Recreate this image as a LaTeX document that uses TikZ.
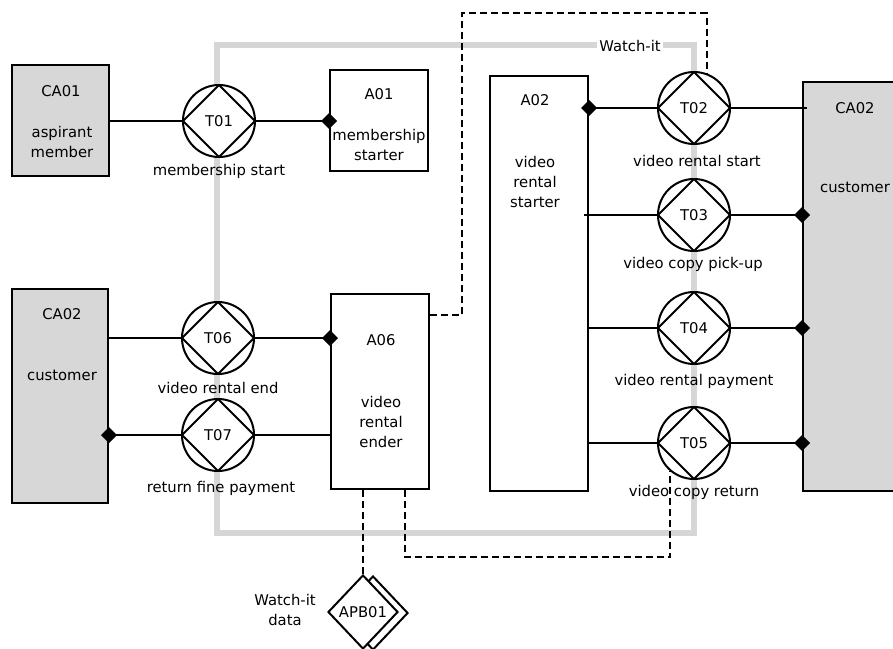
\documentclass[tikz,border=0pt]{standalone}
\usepackage{fontspec}
\setmainfont{DejaVu Sans}
\usetikzlibrary{arrows.meta, shapes.geometric, calc}

\definecolor{actorgray}{RGB}{215,215,215}
\definecolor{bordergray}{RGB}{214,214,214}

\tikzset{
    txt/.style={inner sep=0pt, anchor=base, align=center},
    actor/.style={draw, fill=actorgray, line width=2pt, inner sep=0pt},
    role/.style={draw, fill=white, line width=2pt, inner sep=0pt},
    transact/.style={circle, draw, fill=white, line width=2pt, minimum size=72pt, inner sep=0pt,
        path picture={\draw[line width=2pt] (path picture bounding box.north) -- (path picture bounding box.east)
            -- (path picture bounding box.south) -- (path picture bounding box.west) -- cycle;}},
    link/.style={line width=2pt},
    execlink/.style={link, -{Diamond[length=16pt, width=16pt]}, shorten >=-8pt},
    info/.style={line width=2pt, dash pattern=on 7pt off 4pt},
    bank/.style={diamond, draw, fill=white, line width=2pt, inner sep=0pt, minimum width=70pt, minimum height=74pt}
}

\begin{document}
\begin{tikzpicture}[x=1pt, y=-1pt, font=\fontsize{14.8}{20}\selectfont]
\useasboundingbox (0,0) rectangle (893,648);

% System boundary
\draw[bordergray, line width=6pt] (217,45) rectangle (694,533);
\node[txt, fill=white, inner sep=2pt] (sysname) at (630,51) {Watch-it};

% Actor roles
\node[actor, minimum width=97pt, minimum height=111pt] (CA01) at (60.5,120.5) {};
\node[actor, minimum width=96pt, minimum height=214pt] (CA02L) at (60,396) {};
\node[actor, minimum width=100pt, minimum height=409pt] (CA02R) at (853,286.5) {};
\node[role, minimum width=98pt, minimum height=101pt] (A01) at (379,120.5) {};
\node[role, minimum width=98pt, minimum height=415pt] (A02) at (539,283.5) {};
\node[role, minimum width=98pt, minimum height=195pt] (A06) at (380,391.5) {};

% Role texts (base = last line)
\node[txt] (CA01id) at (61,96) {CA01};
\node[txt] (CA01name) at (62,157) {aspirant\\member};
\node[txt] (CA02Lid) at (62,319) {CA02};
\node[txt] (CA02Lname) at (62,380) {customer};
\node[txt] (CA02Rid) at (855,113) {CA02};
\node[txt] (CA02Rname) at (855,192) {customer};
\node[txt] (A01id) at (379,99) {A01};
\node[txt] (A01name) at (379,160) {membership\\starter};
\node[txt] (A02id) at (535,105) {A02};
\node[txt] (A02name) at (535,207) {video\\rental\\starter};
\node[txt] (A06id) at (381,345) {A06};
\node[txt] (A06name) at (381,447) {video\\rental\\ender};

% Transactions
\node[transact] (T01) at (219,121) {T01};
\node[transact] (T02) at (694,108) {T02};
\node[transact] (T03) at (694,215) {T03};
\node[transact] (T04) at (694,328) {T04};
\node[transact] (T05) at (694,443) {T05};
\node[transact] (T06) at (218,338) {T06};
\node[transact] (T07) at (218,435) {T07};

\node[txt] (T01name) at (219,175) {membership start};
\node[txt] (T02name) at (697,166) {video rental start};
\node[txt] (T03name) at (693,268) {video copy pick-up};
\node[txt] (T04name) at (694,385) {video rental payment};
\node[txt] (T05name) at (694,496) {video copy return};
\node[txt] (T06name) at (218,393) {video rental end};
\node[txt] (T07name) at (221,492) {return fine payment};

% Transaction links
\draw[link] (CA01.east |- T01) -- (T01.west);
\draw[execlink] (T01.east) -- (T01 -| A01.west);
\draw[execlink] (T02.west) -- (T02 -| A02.east);
\draw[link] (T02.east) -- ($(T02 -| CA02R.west)+(5,0)$);
\draw[link] ($(T03 -| A02.east)+(-5,0)$) -- (T03.west);
\draw[execlink] (T03.east) -- (T03 -| CA02R.west);
\draw[link] (T04 -| A02.east) -- (T04.west);
\draw[execlink] (T04.east) -- (T04 -| CA02R.west);
\draw[link] (T05 -| A02.east) -- (T05.west);
\draw[execlink] (T05.east) -- (T05 -| CA02R.west);
\draw[link] (CA02L.east |- T06) -- (T06.west);
\draw[execlink] (T06.east) -- (T06 -| A06.west);
\draw[execlink] (T07.west) -- (T07 -| CA02L.east);
\draw[link] (T07.east) -- (T07 -| A06.west);

% Production bank
\node[bank] (APB01back) at (373,613) {};
\node[bank] (APB01) at (363,612) {APB01};
\node[txt] (APB01name) at (285,625) {Watch-it\\data};

% Information links
\draw[info] ([yshift=-22pt]A06.north east) -| ($(T02.69)+(-245,-60)$) -| (T02.69);
\draw[info] ([xshift=25pt]A06.south) |- ($(T05.-130)+(0,86)$) -- (T05.-130);
\draw[info] ([xshift=-17pt]A06.south) -- (APB01.north);

\end{tikzpicture}
\end{document}
